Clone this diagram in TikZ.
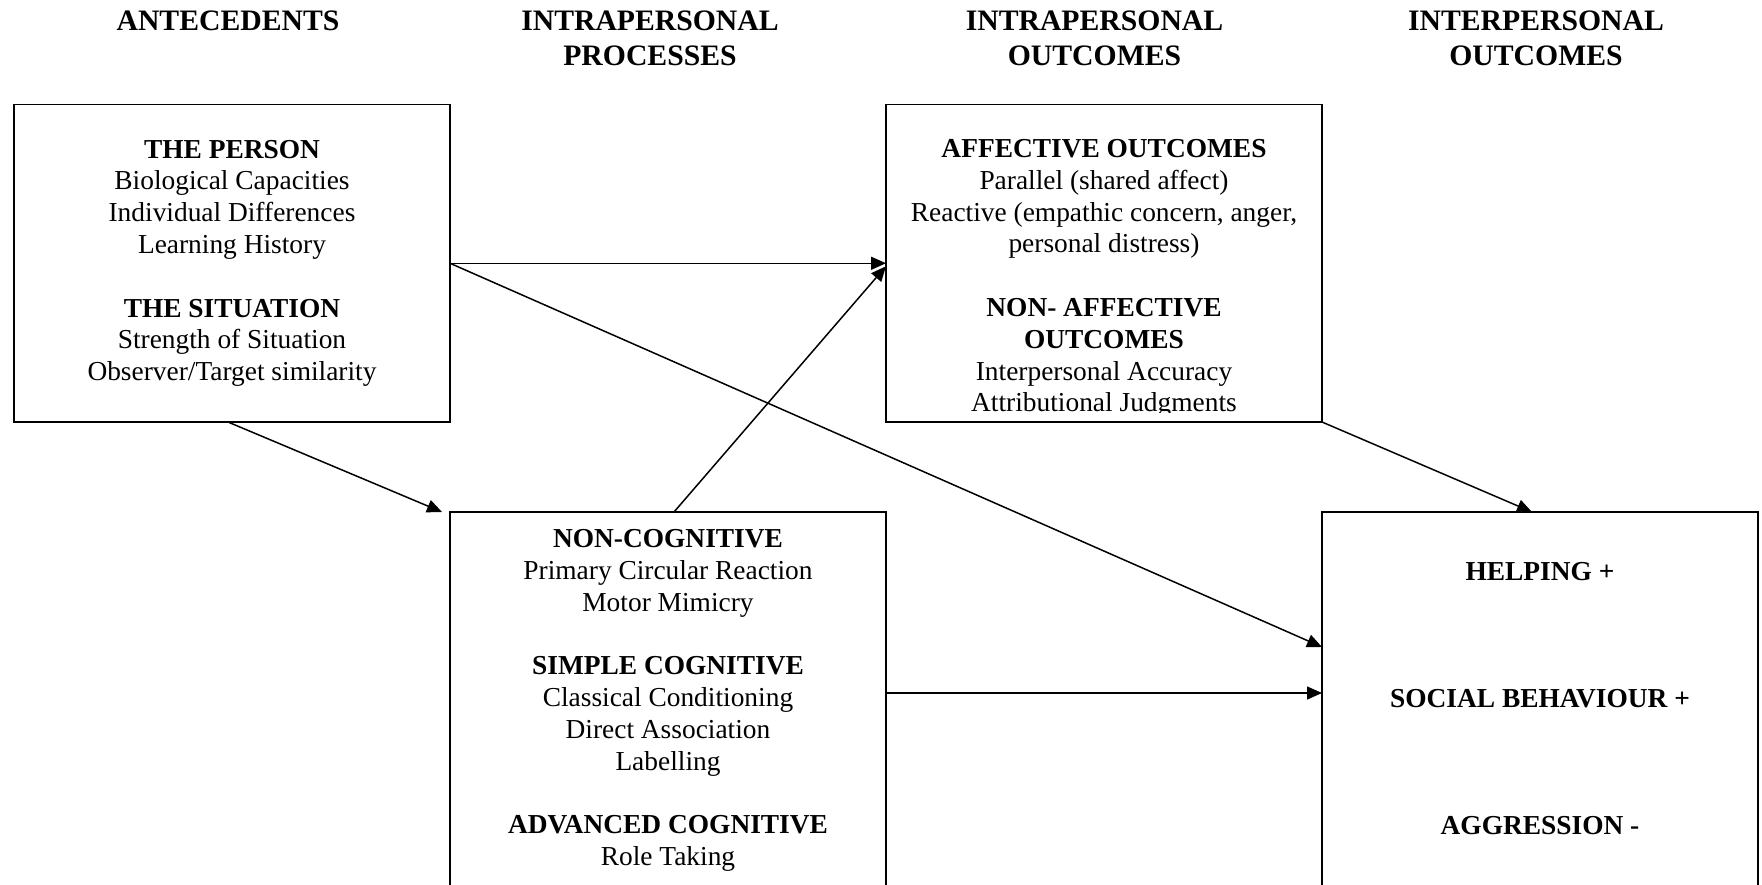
\documentclass[tikz,border=0pt]{standalone}
\usepackage{fontspec}
\setmainfont{Liberation Serif}
\usetikzlibrary{arrows.meta}
% centred stack of lines whose baseline is the baseline of its first line
\newcommand\stack[1]{\begin{tabular}[t]{@{}c@{}}#1\end{tabular}}

\begin{document}
\begin{tikzpicture}[x=0.5pt,y=-0.5pt,
  box/.style={draw, rectangle, line width=0.75pt, inner sep=0pt, outer sep=0pt,
              minimum width=218pt},
  upper/.style={box, minimum height=158.75pt},
  lower/.style={box, minimum height=240pt},
  body/.style={font=\fontsize{13.7}{15.9}\selectfont, inner sep=0pt, anchor=base},
  head/.style={font=\fontsize{14.85}{17.5}\selectfont\bfseries, inner sep=0pt, anchor=base},
  arr/.style={line width=0.75pt, -{Triangle[length=7.5pt,width=6.5pt]}}]

\useasboundingbox (0,0) rectangle (1762,884);
\clip (0,0) rectangle (1762,884);

% column headings
\node[head] (h1) at (228,30.7)    {\stack{ANTECEDENTS}};
\node[head] (h2) at (650,30.7)    {\stack{INTRAPERSONAL\\PROCESSES}};
\node[head] (h3) at (1094.5,30.7) {\stack{INTRAPERSONAL\\OUTCOMES}};
\node[head] (h4) at (1536,30.7)   {\stack{INTERPERSONAL\\OUTCOMES}};

% boxes
\node[upper] (b1) at (232,263.25)  {};
\node[upper] (b2) at (1104,263.25) {};
\node[lower] (b3) at (668,752)     {};
\node[lower] (b4) at (1540,752)    {};

% box contents
\node[body] (t1) at (232,158) {\stack{\textbf{THE PERSON}\\Biological Capacities\\
  Individual Differences\\Learning History\\ \\\textbf{THE SITUATION}\\
  Strength of Situation\\Observer/Target similarity}};

\begin{scope}
  \clip (886,104) rectangle (1322,412);
  \node[body] (t2) at (1104,157.5) {\stack{\textbf{AFFECTIVE OUTCOMES}\\Parallel (shared affect)\\
    Reactive (empathic concern, anger,\\personal distress)\\ \\\textbf{NON- AFFECTIVE}\\
    \textbf{OUTCOMES}\\Interpersonal Accuracy\\Attributional Judgments}};
\end{scope}

\node[body] (t3) at (668,547.5) {\stack{\textbf{NON-COGNITIVE}\\Primary Circular Reaction\\
  Motor Mimicry\\ \\\textbf{SIMPLE COGNITIVE}\\Classical Conditioning\\Direct Association\\
  Labelling\\ \\\textbf{ADVANCED COGNITIVE}\\Role Taking}};

\node[body] (t4) at (1540,580) {\stack{\textbf{HELPING +}\\ \\ \\ \\\textbf{SOCIAL BEHAVIOUR +}\\
  \\ \\ \\\textbf{AGGRESSION -}}};

% connectors
\draw[arr] (b1.east) -- (b2.west);
\draw[arr] (b1.east) -- ([yshift=-67.5pt]b4.north west);
\draw[arr] ([xshift=-2pt]b1.south) -- ([xshift=-4pt]b3.north west);
\draw[arr] ([xshift=3pt]b3.north) -- ([yshift=-1.5pt]b2.west);
\draw[arr] (b2.south east) -- ([xshift=-4pt]b4.north);
\draw[arr] ([yshift=-90.5pt]b3.north east) -- ([yshift=-90.5pt]b4.north west);
\end{tikzpicture}
\end{document}
